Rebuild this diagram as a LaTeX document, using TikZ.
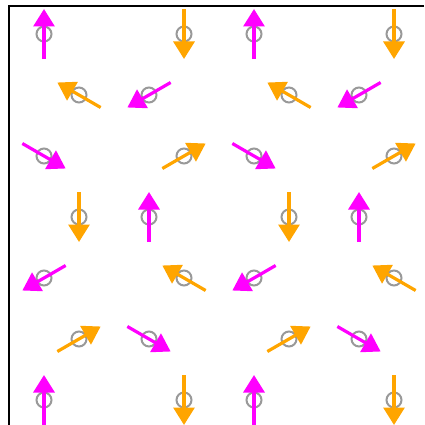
\documentclass[tikz,border=0pt]{standalone}
\usetikzlibrary{arrows.meta}
\definecolor{spinM}{RGB}{255,0,255}
\definecolor{spinO}{RGB}{255,165,0}
\definecolor{ringgray}{RGB}{153,153,153}
\begin{document}
\begin{tikzpicture}[x=1pt,y=-1pt,
  site/.style={circle,draw=ringgray,line width=2pt,minimum size=15pt,inner sep=0pt},
  spin/.style={line width=3.2pt,-{Triangle[length=17.5pt,width=21pt]}},
  frameline/.style={line width=1.2pt,black}]
\useasboundingbox (0,0) rectangle (424,425);
\coordinate (ftop) at (424,6);
\coordinate (fcorner) at (9,6);
\coordinate (fbot) at (9,425);
\draw[frameline] (ftop) -- (fcorner) -- (fbot);
\foreach \px/\py/\ang/\col [count=\i] in {
  44/34/90/spinM, 184/34/270/spinO, 254/34/90/spinM, 394/34/270/spinO,
  79/95/150/spinO, 149/95/210/spinM, 289/95/150/spinO, 359/95/210/spinM,
  44/156/330/spinM, 184/156/30/spinO, 254/156/330/spinM, 394/156/30/spinO,
  79/217/270/spinO, 149/217/90/spinM, 289/217/270/spinO, 359/217/90/spinM,
  44/278/210/spinM, 184/278/150/spinO, 254/278/210/spinM, 394/278/150/spinO,
  79/339/30/spinO, 149/339/330/spinM, 289/339/30/spinO, 359/339/330/spinM,
  44/400/90/spinM, 184/400/270/spinO, 254/400/90/spinM, 394/400/270/spinO}
{
  \node[site] (s\i) at (\px,\py) {};
  \coordinate (t\i) at ([shift={(\ang+180:25pt)}]s\i.center);
  \coordinate (h\i) at ([shift={(\ang:25pt)}]s\i.center);
  \draw[spin,draw=\col,fill=\col] (t\i) -- (h\i);
}
\end{tikzpicture}
\end{document}
